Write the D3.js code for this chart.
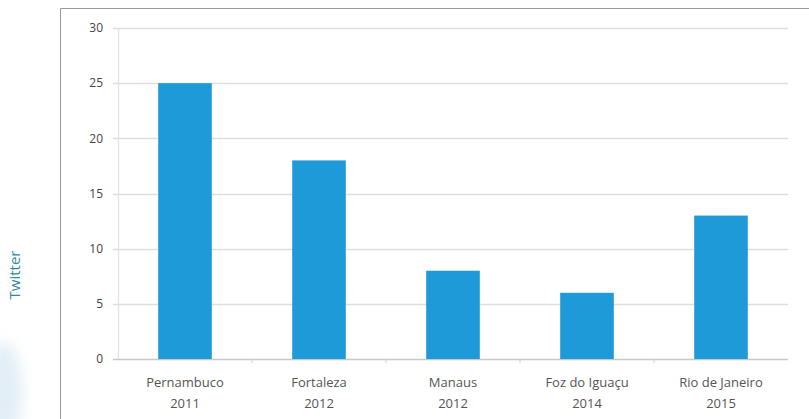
<!DOCTYPE html>
<html><head><meta charset="utf-8">
<script src="https://cdn.jsdelivr.net/npm/d3@7"></script>
<style>body{margin:0;background:#fff;}svg{display:block;}</style>
</head><body>
<script>
const categories = ["Pernambuco|2011","Fortaleza|2012","Manaus|2012","Foz do Iguaçu|2014","Rio de Janeiro|2015"];
const values = [25, 18, 8, 6, 13];
const yTicks = [0, 5, 10, 15, 20, 25, 30];
const sideLabel = "Twitter";

const W = 809, H = 419;
const svg = d3.select("body").append("svg").attr("width", W).attr("height", H);
const defs = svg.append("defs");
const f = defs.append("filter").attr("id","blur").attr("x","-50%").attr("y","-50%").attr("width","200%").attr("height","200%");
f.append("feGaussianBlur").attr("stdDeviation", 7);
svg.append("ellipse").attr("cx", 4).attr("cy", 392).attr("rx", 18).attr("ry", 50)
  .attr("fill", "#e2eef6").attr("filter","url(#blur)");

// frame
svg.append("path").attr("d", `M60.5,${H} V8.5 H${W}`).attr("fill","none").attr("stroke","#9a9a9a").attr("stroke-width",1);

const x = d3.scaleBand().domain(categories).range([118, 788]).paddingInner(0.6).paddingOuter(0.3);
const xb = d3.scaleBand().domain(categories).range([118, 788]);
const y = d3.scaleLinear().domain([0, 30]).range([359, 28]);

// grid
svg.append("g").selectAll("line").data(yTicks).join("line")
  .attr("x1", 113).attr("x2", 788)
  .attr("y1", d => Math.round(y(d)) + 0.5).attr("y2", d => Math.round(y(d)) + 0.5)
  .attr("stroke", d => d === 0 ? "#c8c8c8" : "#dedede").attr("stroke-width", 1.3);
// y axis line
svg.append("line").attr("x1", 118.5).attr("x2", 118.5).attr("y1", y(30)).attr("y2", y(0))
  .attr("stroke", "#e3e3e3").attr("stroke-width", 1.3);
// x tick marks
svg.append("g").selectAll("line").data(categories.slice(1)).join("line")
  .attr("x1", d => xb(d)).attr("x2", d => xb(d)).attr("y1", 359).attr("y2", 363)
  .attr("stroke", "#d0d0d0");

// y labels
svg.append("g").selectAll("text").data(yTicks).join("text")
  .attr("x", 103).attr("y", d => y(d)).attr("dy", "0.35em").attr("text-anchor", "end")
  .attr("font-family", "Open Sans, sans-serif").attr("font-size", 12).attr("fill", "#444")
  .text(d => d);

// bars
svg.append("g").selectAll("rect").data(values).join("rect")
  .attr("x", (d, i) => x(categories[i])).attr("width", x.bandwidth())
  .attr("y", d => y(d)).attr("height", d => y(0) - y(d))
  .attr("fill", "#1f9ad8");

// x labels
const xl = svg.append("g").selectAll("text").data(categories).join("text")
  .attr("text-anchor", "middle")
  .attr("font-family", "Open Sans, sans-serif").attr("font-size", 13).attr("fill", "#555");
xl.each(function(d) {
  const parts = d.split("|");
  const t = d3.select(this);
  const cx = xb(d) + xb.bandwidth() / 2;
  t.append("tspan").attr("x", cx).attr("y", 387).text(parts[0]);
  t.append("tspan").attr("x", cx).attr("y", 408).text(parts[1]);
});

// side label
svg.append("text").attr("transform", "translate(20,275) rotate(-90)")
  .attr("text-anchor", "middle").attr("font-family", "Open Sans, sans-serif").attr("font-size", 15)
  .attr("fill", "#2f8a9c").text(sideLabel);
</script>
</body></html>
